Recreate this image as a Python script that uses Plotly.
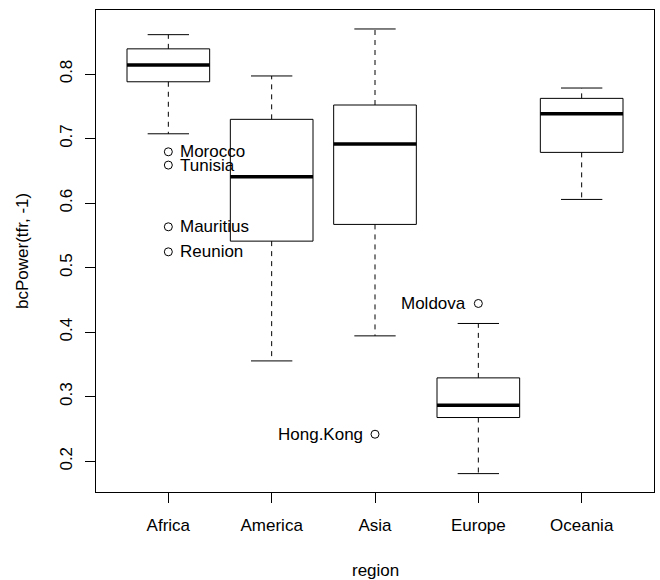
import plotly.graph_objects as go

regions = ["Africa", "America", "Asia", "Europe", "Oceania"]
lower_whisker = [0.7074, 0.3555, 0.3943, 0.1809, 0.6057]
q1 = [0.7880, 0.5411, 0.5670, 0.2678, 0.6786]
median = [0.8140, 0.6408, 0.6915, 0.2868, 0.7384]
q3 = [0.8390, 0.7298, 0.7520, 0.3292, 0.7623]
upper_whisker = [0.8610, 0.7970, 0.8698, 0.4135, 0.7783]

outlier_region = ["Africa", "Africa", "Africa", "Africa", "Asia", "Europe"]
outlier_name = ["Morocco", "Tunisia", "Mauritius", "Reunion", "Hong.Kong", "Moldova"]
outlier_value = [0.6795, 0.6589, 0.5633, 0.5245, 0.2419, 0.4445]
outlier_side = ["right", "right", "right", "right", "left", "left"]

FONT = "Liberation Sans, Arial, Helvetica, sans-serif"
FS = 17
HALF_BOX = 0.4
HALF_CAP = 0.2

pos = {r: i + 1 for i, r in enumerate(regions)}

box_x, box_y = [], []
med_x, med_y = [], []
wh_x, wh_y = [], []
cap_x, cap_y = [], []
for i, r in enumerate(regions):
    c = pos[r]
    box_x += [c - HALF_BOX, c + HALF_BOX, c + HALF_BOX, c - HALF_BOX, c - HALF_BOX, None]
    box_y += [q1[i], q1[i], q3[i], q3[i], q1[i], None]
    med_x += [c - HALF_BOX, c + HALF_BOX, None]
    med_y += [median[i], median[i], None]
    wh_x += [c, c, None, c, c, None]
    wh_y += [q3[i], upper_whisker[i], None, q1[i], lower_whisker[i], None]
    cap_x += [c - HALF_CAP, c + HALF_CAP, None, c - HALF_CAP, c + HALF_CAP, None]
    cap_y += [upper_whisker[i], upper_whisker[i], None, lower_whisker[i], lower_whisker[i], None]

fig = go.Figure()
fig.add_trace(go.Scatter(x=wh_x, y=wh_y, mode="lines",
                         line=dict(color="black", width=1, dash="5px,5px"), hoverinfo="skip"))
fig.add_trace(go.Scatter(x=cap_x, y=cap_y, mode="lines",
                         line=dict(color="black", width=1), hoverinfo="skip"))
fig.add_trace(go.Scatter(x=box_x, y=box_y, mode="lines",
                         line=dict(color="black", width=1), hoverinfo="skip"))
fig.add_trace(go.Scatter(x=med_x, y=med_y, mode="lines",
                         line=dict(color="black", width=3.5), hoverinfo="skip"))

ox = [pos[r] for r in outlier_region]
fig.add_trace(go.Scatter(x=ox, y=outlier_value, mode="markers",
                         marker=dict(symbol="circle-open", size=8, color="black",
                                     line=dict(width=1, color="black")), hoverinfo="skip"))
for x, y, name, side in zip(ox, outlier_value, outlier_name, outlier_side):
    fig.add_annotation(x=x, y=y, xref="x", yref="y", text=name, showarrow=False,
                       xanchor="left" if side == "right" else "right", yanchor="middle",
                       xshift=10 if side == "right" else -10,
                       font=dict(family=FONT, size=FS, color="black"))

fig.add_annotation(x=0.5, y=0, xref="paper", yref="paper", text="region", showarrow=False,
                   xanchor="center", yanchor="middle", yshift=-78,
                   font=dict(family=FONT, size=FS, color="black"))
fig.add_annotation(x=0, y=0.5, xref="paper", yref="paper", text="bcPower(tfr, -1)",
                   showarrow=False, textangle=-90, xanchor="center", yanchor="middle",
                   xshift=-74, font=dict(family=FONT, size=FS, color="black"))

fig.update_layout(
    width=660, height=580,
    margin=dict(l=96, r=6, t=10, b=88),
    paper_bgcolor="white", plot_bgcolor="white",
    showlegend=False,
    font=dict(family=FONT, size=FS, color="black"),
    xaxis=dict(range=[0.3, 5.7], tickvals=[pos[r] for r in regions], ticktext=regions,
               ticks="outside", ticklen=10, tickwidth=1, tickcolor="black",
               showline=True, linecolor="black", linewidth=1, mirror=True,
               showgrid=False, zeroline=False, ticklabelstandoff=8),
    yaxis=dict(range=[0.1524, 0.8992], tickvals=[0.2, 0.3, 0.4, 0.5, 0.6, 0.7, 0.8],
               ticktext=["0.2", "0.3", "0.4", "0.5", "0.6", "0.7", "0.8"],
               tickangle=-90,
               ticks="outside", ticklen=10, tickwidth=1, tickcolor="black",
               showline=True, linecolor="black", linewidth=1, mirror=True,
               showgrid=False, zeroline=False, ticklabelstandoff=6),
)

fig.write_html("out.html")
